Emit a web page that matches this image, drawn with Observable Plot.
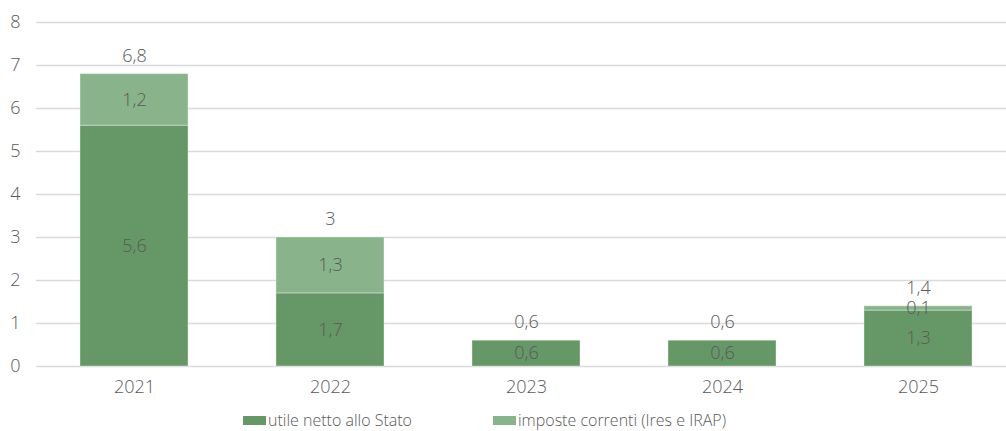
<!DOCTYPE html>
<html>
<head>
<meta charset="utf-8">
<script src="https://cdn.jsdelivr.net/npm/d3@7"></script>
<script src="https://cdn.jsdelivr.net/npm/@observablehq/plot@0.6"></script>
<style>
  html, body { margin: 0; padding: 0; background: #fff; }
  body { width: 1006px; height: 431px; overflow: hidden; font-family: "Open Sans", "Noto Sans", sans-serif; font-weight: 300; color: #595959; }
  #legend { position: relative; height: 31px; font-size: 16px; }
  .item { position: absolute; top: 11px; height: 19px; line-height: 19px; display: flex; align-items: center; white-space: nowrap; }
  .sw { width: 23px; height: 9px; margin-right: 2px; }
  svg text { font-weight: 300; }
</style>
</head>
<body>
<div id="chart"></div>
<div id="legend"></div>
<script>
const years = ["2021", "2022", "2023", "2024", "2025"];
const utile = [5.6, 1.7, 0.6, 0.6, 1.3];
const imposte = [1.2, 1.3, 0, 0, 0.1];
const totals = [6.8, 3, 0.6, 0.6, 1.4];
const seriesNames = ["utile netto allo Stato", "imposte correnti (Ires e IRAP)"];
const colors = ["#669867", "#89b38a"];
const yTicks = [0, 1, 2, 3, 4, 5, 6, 7, 8];

const fmt = v => String(v).replace(".", ",");

const rows = [];
years.forEach((y, i) => {
  rows.push({year: y, series: seriesNames[0], value: utile[i]});
  rows.push({year: y, series: seriesNames[1], value: imposte[i]});
});
const totalRows = years.map((y, i) => ({year: y, total: totals[i]}));

const textColor = "#595959";
const fs = 18;

const plot = Plot.plot({
  width: 1006,
  height: 400,
  marginLeft: 36,
  marginRight: 0,
  marginTop: 22,
  marginBottom: 34,
  style: {fontFamily: "'Open Sans', 'Noto Sans', sans-serif", fontSize: "18px", color: textColor, background: "#fff"},
  x: {domain: years, range: [36, 1016], paddingInner: 0.449, paddingOuter: 0.2245, label: null},
  y: {domain: [0, 8], label: null},
  color: {domain: seriesNames, range: colors},
  marks: [
    Plot.ruleY(yTicks, {stroke: "#d9d9d9", strokeWidth: 1.3}),
    Plot.barY(rows, Plot.stackY({x: "year", y: "value", fill: "series", order: null, stroke: "#ffffff", strokeOpacity: 0.35, strokeWidth: 1, inset: 0})),
    Plot.text(rows.filter(d => d.value > 0), Plot.stackY({x: "year", y: "value", z: "series", text: d => fmt(d.value), fill: textColor, fontSize: fs, order: null})),
    Plot.text(totalRows, {x: "year", y: "total", text: d => fmt(d.total), dy: -18, fill: textColor, fontSize: fs}),
    Plot.axisY({ticks: yTicks, tickSize: 0, tickPadding: 16, fontSize: fs, tickFormat: d => String(d), label: null, color: textColor}),
    Plot.axisX({tickSize: 0, tickPadding: 14, fontSize: fs, label: null, color: textColor})
  ]
});
document.getElementById("chart").appendChild(plot);

const legend = document.getElementById("legend");
const lefts = [243, 493];
seriesNames.forEach((name, i) => {
  const item = document.createElement("div");
  item.className = "item";
  item.style.left = lefts[i] + "px";
  const sw = document.createElement("span");
  sw.className = "sw";
  sw.style.background = colors[i];
  const t = document.createElement("span");
  t.textContent = name;
  item.appendChild(sw);
  item.appendChild(t);
  legend.appendChild(item);
});
</script>
</body>
</html>
